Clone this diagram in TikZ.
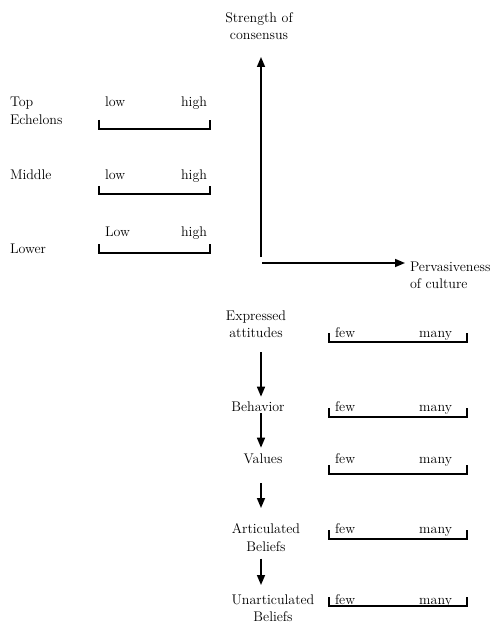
\documentclass[tikz,border=0pt]{standalone}
\usepackage{fontspec}
\usetikzlibrary{arrows.meta}
\begin{document}
\begin{tikzpicture}[x=1pt,y=-1pt,
  every node/.style={inner sep=0pt,outer sep=0pt,font=\fontsize{14}{17.5}\selectfont},
  lbl/.style={anchor=base},
  lblw/.style={anchor=base west},
  lble/.style={anchor=base east},
  twoline/.style={anchor=north,align=center},
  twolinew/.style={anchor=north west,align=left},
  axis/.style={line width=1.6pt,-{Triangle[length=10pt,width=8pt]}},
  flow/.style={line width=1.6pt,-{Triangle[length=10pt,width=8pt]}},
  brace/.style={line width=1.6pt}]
\useasboundingbox (0,0) rectangle (493,628);

% axes
\coordinate (orgv) at (261,257);
\coordinate (ytip) at (261,57);
\coordinate (orgh) at (262,263);
\coordinate (xtip) at (405,263);
\draw[axis] (orgv) -- (ytip);
\draw[axis] (orgh) -- (xtip);
\node[twoline] (ylab) at (259,12.5) {Strength of\\consensus};
\node[twolinew] (xlab) at (410,261.5) {Pervasiveness\\of culture};

% hierarchy levels with low/high scales
\node[twolinew] (top) at (10,97.5) {Top\\Echelons};
\node[lblw] (toplo) at (105,107) {low};
\node[lble] (tophi) at (207,107) {high};
\draw[brace] (99,120) -- (99,129) -- (210,129) -- (210,120);

\node[lblw] (mid) at (10,180) {Middle};
\node[lblw] (midlo) at (105,180) {low};
\node[lble] (midhi) at (207,180) {high};
\draw[brace] (99,186) -- (99,194) -- (210,194) -- (210,186);

\node[lblw] (low) at (10,253) {Lower};
\node[lblw] (lowlo) at (105,236) {Low};
\node[lble] (lowhi) at (207,236) {high};
\draw[brace] (99,244) -- (99,253) -- (210,253) -- (210,244);

% levels of culture with few/many scales
\coordinate (ax) at (261,0);
\node[twoline] (expr) at (256,310.5) {Expressed\\attitudes};
\node[lbl] (behav) at (258,411) {Behavior};
\node[lbl] (vals) at (263,463) {Values};
\node[twoline] (artic) at (266,523.5) {Articulated\\Beliefs};
\node[twoline] (unart) at (273,594.5) {Unarticulated\\Beliefs};

\foreach \n/\b/\t/\y in {e/337/333/342, b/411/408/417, v/463/465/474, a/533/530/539, u/604/597/606}{
  \node[lblw] (few\n) at (335,\b) {few};
  \node[lble] (many\n) at (452,\b) {many};
  \draw[brace] (329,\t) -- (329,\y) -- (467,\y) -- (467,\t);
}

\draw[flow] ([yshift=-14.5pt]expr.south -| ax) -- ([yshift=4.6pt]behav.north -| ax);
\draw[flow] ([yshift=-2pt]behav.south -| ax) -- ([yshift=5.6pt]vals.north -| ax);
\draw[flow] ([yshift=-20pt]vals.south -| ax) -- ([yshift=15.5pt]artic.north -| ax);
\draw[flow] ([yshift=-7.6pt]artic.south -| ax) -- ([yshift=9.5pt]unart.north -| ax);
\end{tikzpicture}
\end{document}
